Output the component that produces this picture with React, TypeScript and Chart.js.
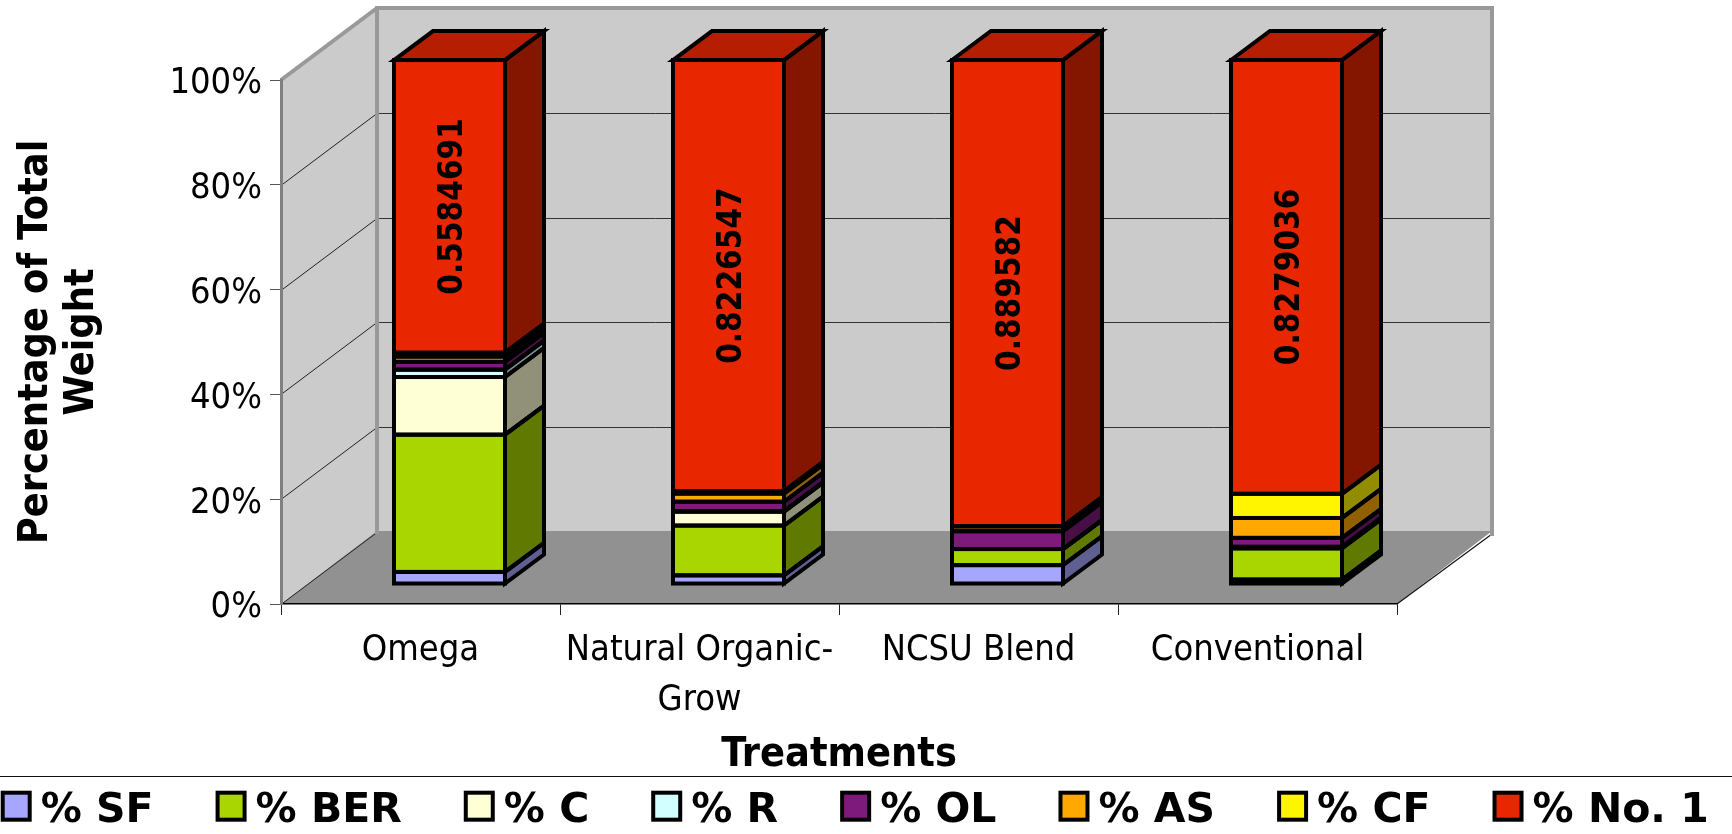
import React, { useEffect, useRef } from "react";
import { Chart, registerables } from "chart.js";

Chart.register(...registerables);

const FONT = '"DejaVu Sans Condensed", "DejaVu Sans"';
const LEGEND_FONT = '"DejaVu Sans"';

const treatments = ["Omega", ["Natural Organic-", "Grow"], "NCSU Blend", "Conventional"];
const seriesNames = ["% SF", "% BER", "% C", "% R", "% OL", "% AS", "% CF", "% No. 1"];

const pctSF = [0.023, 0.0165, 0.036, 0.0085];
const pctBER = [0.262, 0.095, 0.0307, 0.0595];
const pctC = [0.11, 0.0265, 0.0, 0.0015];
const pctR = [0.014, 0.001, 0.0, 0.0015];
const pctOL = [0.015, 0.018, 0.034, 0.017];
const pctAS = [0.01, 0.0155, 0.0093, 0.038];
const pctCF = [0.0074, 0.0048, 0.0004, 0.0461];
const pctNo1 = [0.5584691, 0.8226547, 0.889582, 0.8279036];

const seriesValues = [pctSF, pctBER, pctC, pctR, pctOL, pctAS, pctCF, pctNo1];
const seriesColors = ["#A6A6FF", "#A9D500", "#FFFFD6", "#D2FFFF", "#7F1A7D", "#FFA800", "#FFF500", "#E82700"];
const yTicks = [0, 0.2, 0.4, 0.6, 0.8, 1];

// 3D projection of the chart (pixels)
const WALL_DX = 96;
const WALL_DY = -72;
const BAR_DX = 29;
const BAR_DY = -20;
const DEPTH_DX = 39;
const DEPTH_DY = -29;
const EDGE = 4;

function shade(hex: string, f: number) {
  const n = parseInt(hex.slice(1), 16);
  const r = Math.round(((n >> 16) & 255) * f);
  const g = Math.round(((n >> 8) & 255) * f);
  const b = Math.round((n & 255) * f);
  return `rgb(${r},${g},${b})`;
}

function poly(ctx: CanvasRenderingContext2D, pts: number[][]) {
  ctx.beginPath();
  pts.forEach((p, i) => (i ? ctx.lineTo(p[0], p[1]) : ctx.moveTo(p[0], p[1])));
  ctx.closePath();
}

function seg(ctx: CanvasRenderingContext2D, a: number[], b: number[], color: string, w: number) {
  ctx.strokeStyle = color;
  ctx.lineWidth = w;
  ctx.beginPath();
  ctx.moveTo(a[0], a[1]);
  ctx.lineTo(b[0], b[1]);
  ctx.stroke();
}

const wallsPlugin = {
  id: "walls",
  beforeDraw(chart: any) {
    const { ctx, chartArea: a, scales } = chart;
    const { left: l, right: r, top: t, bottom: b } = a;
    const bx = l + WALL_DX;
    const brx = r + WALL_DX - 1;
    // nudge the y tick labels so the digits sit centred on their ticks
    scales.y.getLabelItems().forEach((item: any) => {
      if (!item.options.nudged) {
        item.options.nudged = true;
        item.options.translation = [item.options.translation[0], item.options.translation[1] + 4];
      }
    });
    ctx.save();
    ctx.fillStyle = "#CBCBCB";
    ctx.fillRect(bx, t + WALL_DY, brx - bx, b - t);
    poly(ctx, [[l, t], [bx, t + WALL_DY], [bx, b + WALL_DY], [l, b]]);
    ctx.fill();
    ctx.fillStyle = "#919191";
    poly(ctx, [[l, b], [r, b], [brx, b + WALL_DY - 1], [bx, b + WALL_DY - 1]]);
    ctx.fill();
    yTicks.forEach((v) => {
      const y = Math.round(scales.y.getPixelForValue(v)) + 0.5;
      if (v > 0 && v < 1) {
        seg(ctx, [bx, y + WALL_DY], [brx, y + WALL_DY], "#333", 1);
      }
      if (v < 1) {
        seg(ctx, [l, y], [bx, y + WALL_DY], "#222", 1);
      }
    });
    seg(ctx, [r, b], [brx, b + WALL_DY + 2], "#111", 1.2);
    ctx.lineCap = "square";
    seg(ctx, [bx, t + WALL_DY], [brx, t + WALL_DY], "#999", 4);
    seg(ctx, [bx, t + WALL_DY], [bx, b + WALL_DY], "#999", 4);
    seg(ctx, [brx, t + WALL_DY], [brx, b + WALL_DY + 2], "#999", 4);
    ctx.lineCap = "butt";
    seg(ctx, [l, t], [bx, t + WALL_DY], "#999", 4);
    ctx.restore();
  },
};

const bars3dPlugin = {
  id: "bars3d",
  beforeDatasetsDraw(chart: any) {
    chart.ctx.save();
    chart.ctx.translate(BAR_DX, BAR_DY);
  },
  afterDatasetsDraw(chart: any) {
    const { ctx } = chart;
    const n = chart.data.datasets.length;
    ctx.lineJoin = "miter";
    ctx.lineWidth = EDGE;
    ctx.strokeStyle = "#000";
    // side and top faces
    for (let d = 0; d < n; d++) {
      const color = seriesColors[d];
      chart.getDatasetMeta(d).data.forEach((el: any) => {
        const half = el.width / 2;
        const x1 = el.x + half;
        poly(ctx, [
          [x1, el.y],
          [x1 + DEPTH_DX, el.y + DEPTH_DY],
          [x1 + DEPTH_DX, el.base + DEPTH_DY],
          [x1, el.base],
        ]);
        ctx.fillStyle = shade(color, 0.57);
        ctx.fill();
        if (d === n - 1) {
          const x0 = el.x - half;
          poly(ctx, [
            [x0, el.y],
            [x0 + DEPTH_DX, el.y + DEPTH_DY],
            [x1 + DEPTH_DX, el.y + DEPTH_DY],
            [x1, el.y],
          ]);
          ctx.fillStyle = shade(color, 0.78);
          ctx.fill();
        }
      });
    }
    // outlines
    for (let d = 0; d < n; d++) {
      chart.getDatasetMeta(d).data.forEach((el: any) => {
        const half = el.width / 2;
        const x0 = el.x - half;
        const x1 = el.x + half;
        ctx.strokeRect(x0, el.y, x1 - x0, el.base - el.y);
        poly(ctx, [
          [x1, el.y],
          [x1 + DEPTH_DX, el.y + DEPTH_DY],
          [x1 + DEPTH_DX, el.base + DEPTH_DY],
          [x1, el.base],
        ]);
        ctx.stroke();
        if (d === n - 1) {
          poly(ctx, [
            [x0, el.y],
            [x0 + DEPTH_DX, el.y + DEPTH_DY],
            [x1 + DEPTH_DX, el.y + DEPTH_DY],
            [x1, el.y],
          ]);
          ctx.stroke();
        }
      });
    }
    // value labels on the top series
    const lastMeta = chart.getDatasetMeta(n - 1);
    lastMeta.data.forEach((el: any, i: number) => {
      ctx.save();
      ctx.translate(el.x, (el.y + el.base) / 2);
      ctx.rotate(-Math.PI / 2);
      ctx.font = `bold 33px ${FONT}`;
      ctx.fillStyle = "#000";
      ctx.textAlign = "center";
      ctx.textBaseline = "middle";
      ctx.fillText(String(pctNo1[i]), 0, 3.5);
      ctx.restore();
    });
    ctx.restore();
  },
};

const legendPlugin = {
  id: "flatLegend",
  afterDraw(chart: any) {
    const { ctx, width } = chart;
    ctx.save();
    seg(ctx, [0, 776.5], [width, 776.5], "#111", 1);
    ctx.font = `bold 41px ${LEGEND_FONT}`;
    ctx.textBaseline = "alphabetic";
    ctx.textAlign = "left";
    let x = 2.7;
    seriesNames.forEach((name, i) => {
      ctx.fillStyle = seriesColors[i];
      ctx.fillRect(x, 792.7, 27, 27);
      ctx.strokeStyle = "#000";
      ctx.lineWidth = 4;
      ctx.strokeRect(x, 792.7, 27, 27);
      ctx.fillStyle = "#000";
      ctx.fillText(name, x + 38, 822);
      x += 38 + ctx.measureText(name).width + 64;
    });
    ctx.restore();
  },
};

export default function App() {
  const ref = useRef<HTMLCanvasElement>(null);
  useEffect(() => {
    const chart = new Chart(ref.current as HTMLCanvasElement, {
      type: "bar",
      data: {
        labels: treatments as any,
        datasets: seriesNames.map((name, i) => ({
          label: name,
          data: seriesValues[i],
          backgroundColor: seriesColors[i],
          borderWidth: 0,
          barThickness: 111,
          clip: false as any,
        })),
      },
      options: {
        responsive: false,
        animation: false,
        layout: { padding: { top: 80, right: 335, left: 0, bottom: 0 } },
        plugins: { legend: { display: false }, tooltip: { enabled: false } },
        scales: {
          x: {
            stacked: true,
            afterFit: (s: any) => {
              s.height = 230;
            },
            border: { color: "#000", width: 1.5 },
            grid: { drawOnChartArea: false, tickLength: 11, color: "#222", lineWidth: 1 },
            ticks: {
              color: "#000",
              padding: 11,
              maxRotation: 0,
              autoSkip: false,
              font: { family: FONT, size: 36, lineHeight: 50 / 36 },
            },
            title: {
              display: true,
              text: "Treatments",
              color: "#000",
              font: { family: FONT, size: 41, weight: "bold", lineHeight: 46 / 41 },
              padding: { top: 0, bottom: 56 },
            },
          },
          y: {
            stacked: true,
            min: 0,
            max: 1,
            afterFit: (s: any) => {
              s.width = 281;
            },
            afterBuildTicks: (s: any) => {
              s.ticks = yTicks.map((value) => ({ value }));
            },
            border: { color: "#808080", width: 3 },
            grid: { drawOnChartArea: false, tickLength: 11, color: "#555", lineWidth: 1 },
            ticks: {
              color: "#000",
              padding: 8,
              font: { family: FONT, size: 36 },
              callback: (v: any) => `${Math.round(Number(v) * 100)}%`,
            },
            title: {
              display: true,
              text: ["Percentage of Total", "Weight"],
              color: "#000",
              font: { family: FONT, size: 41, weight: "bold", lineHeight: 46 / 41 },
              padding: { top: 13, bottom: 0 },
            },
          },
        },
      },
      plugins: [wallsPlugin, bars3dPlugin, legendPlugin],
    } as any);
    return () => chart.destroy();
  }, []);
  return (
    <canvas
      ref={ref}
      width={1732}
      height={834}
      style={{ position: "fixed", left: 0, top: 0, display: "block" }}
    />
  );
}
